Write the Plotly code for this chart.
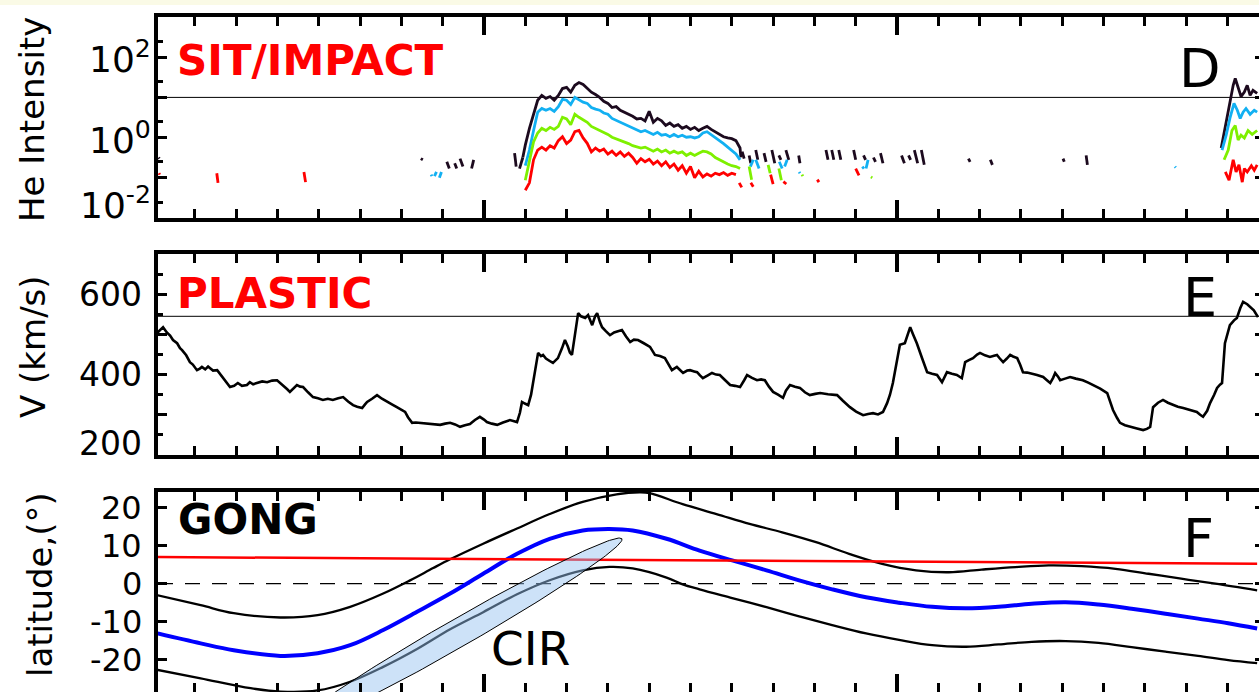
import numpy as np
import plotly.graph_objects as go

# ---------------- SIT/IMPACT: He intensities (four energy channels) ----------------
# main event, sampled every 0.1 day
event_days = [11.0, 11.1, 11.2, 11.3, 11.4, 11.5, 11.6, 11.7, 11.8, 11.9,
              12.0, 12.1, 12.2, 12.3, 12.4, 12.5, 12.6, 12.7, 12.8, 12.9,
              13.0, 13.1, 13.2, 13.3, 13.4, 13.5, 13.6, 13.7, 13.8, 13.9,
              14.0, 14.1, 14.2, 14.3, 14.4, 14.5, 14.6, 14.7, 14.8, 14.9,
              15.0, 15.1, 15.2, 15.3, 15.4, 15.5, 15.6, 15.7, 15.8, 15.9,
              16.0, 16.1, 16.2]
he_black_event = [0.65, 1.7, 3.6, 8.5, 11.2, 9.5, 10.5, 8.5, 11.2, 16.6,
                  17.8, 13.5, 20, 23.4, 21, 16.6, 13.5, 11.8, 10, 8,
                  7.1, 5.6, 5.9, 4.8, 4.3, 3.8, 3.4, 2.9, 3.0, 2.6,
                  4.5, 2.4, 3.0, 2.6, 2.0, 2.3, 1.9, 2.1, 1.7, 1.9,
                  1.6, 1.8, 1.5, 1.7, 1.9, 1.6, 1.4, 1.2, 1.05, 0.98,
                  0.94, 0.84, 0.55]
he_blue_event = [0.2, 0.49, 1.5, 4.3, 5.3, 4.8, 5.3, 4.5, 5.9, 8.9,
                 8.5, 6.7, 10, 8.9, 7.6, 7.1, 5.6, 5.1, 4.8, 4.1,
                 3.8, 3.0, 2.7, 2.4, 2.1, 1.9, 1.7, 1.6, 1.4, 1.5,
                 1.35, 1.2, 1.35, 1.15, 1.2, 1.05, 1.2, 1.05, 1.15, 1.02,
                 1.05, 0.98, 1.05, 1.3, 1.4, 1.2, 1.02, 0.84, 0.71, 0.58,
                 0.49, 0.39, 0.28]
he_green_event = [0.087, 0.28, 0.78, 1.3, 1.7, 1.5, 1.8, 1.6, 1.9, 3.2,
                  2.9, 2.1, 3.8, 3.2, 2.7, 2.4, 1.9, 1.7, 1.5, 1.35,
                  1.2, 1.02, 0.94, 0.87, 0.78, 0.71, 0.63, 0.58, 0.55, 0.58,
                  0.52, 0.46, 0.52, 0.44, 0.49, 0.41, 0.46, 0.41, 0.44, 0.36,
                  0.41, 0.36, 0.41, 0.46, 0.44, 0.39, 0.32, 0.28, 0.25, 0.22,
                  0.2, 0.19, 0.17]
he_red_event = [0.049, 0.075, 0.28, 0.49, 0.58, 0.49, 0.63, 0.55, 0.84, 1.05,
                0.71, 0.87, 1.4, 1.5, 0.98, 0.72, 0.44, 0.55, 0.46, 0.52,
                0.39, 0.46, 0.36, 0.44, 0.34, 0.41, 0.32, 0.23, 0.3, 0.25,
                0.29, 0.22, 0.26, 0.2, 0.25, 0.18, 0.22, 0.155, 0.2, 0.13,
                0.19, 0.1, 0.145, 0.105, 0.125, 0.11, 0.13, 0.12, 0.135, 0.115,
                0.13, 0.12, None]

# sparse low-level samples outside the event (None separates the short pieces)
he_black_bits_days = [2.12, 2.14, None, 8.47, 8.52, None, 9.10, 9.16, None, 9.29, 9.34, None,
                      9.42, 9.49, None, 9.70, 9.75, None, 10.74, 10.78, None, 10.86, 10.94, None,
                      16.25, 16.30, None, 16.42, 16.46, None, 16.58, 16.63, None, 16.78, 16.83, None,
                      16.97, 17.04, None, 17.14, 17.19, None, 17.31, 17.38, None, 17.62, 17.65, None,
                      18.28, 18.33, None, 18.42, 18.47, None, 18.59, 18.64, None, 18.95, 19.0, None,
                      19.19, 19.24, None, 19.43, 19.48, None, 19.60, 19.66, None, 20.11, 20.18, None,
                      20.28, 20.33, None, 20.42, 20.50, None, 20.59, 20.66, None, 21.73, 21.77, None,
                      22.26, 22.31, None, 24.02, 24.05, None, 24.58, 24.61]
he_black_bits = [0.32, 0.30, None, 0.30, 0.28, None, 0.25, 0.17, None, 0.23, 0.17, None,
                 0.30, 0.19, None, 0.17, 0.28, None, 0.41, 0.19, None, 0.17, 0.32, None,
                 0.45, 0.3, None, 0.36, 0.23, None, 0.49, 0.28, None, 0.41, 0.25, None,
                 0.49, 0.23, None, 0.36, 0.28, None, 0.49, 0.28, None, 0.36, 0.23, None,
                 0.49, 0.28, None, 0.49, 0.28, None, 0.49, 0.28, None, 0.49, 0.28, None,
                 0.36, 0.28, None, 0.32, 0.25, None, 0.41, 0.23, None, 0.36, 0.23, None,
                 0.36, 0.28, None, 0.49, 0.23, None, 0.49, 0.21, None, 0.30, 0.25, None,
                 0.28, 0.21, None, 0.30, 0.25, None, 0.36, 0.21]
he_blue_bits_days = [8.72, 8.74, None, 8.80, 8.85, None, 8.92, 8.97, None, 16.45, 16.52, None,
                     16.58, 16.66, None, 17.15, 17.22, None, 17.28, 17.34, None, 17.63, 17.65, None,
                     19.16, 19.20, None, 19.25, 19.30, None, 26.73, 26.75]
he_blue_bits = [0.12, 0.11, None, 0.11, 0.14, None, 0.10, 0.14, None, 0.19, 0.28, None,
                0.28, 0.17, None, 0.25, 0.17, None, 0.19, 0.28, None, 0.14, 0.13, None,
                0.19, 0.17, None, 0.17, 0.28, None, 0.19, 0.18]
he_green_bits_days = [16.42, 16.48, None, 16.88, 16.93, None, 17.14, 17.20, None, 17.70, 17.72, None,
                      19.37, 19.40]
he_green_bits = [0.19, 0.09, None, 0.21, 0.13, None, 0.17, 0.087, None, 0.12, 0.11, None,
                 0.105, 0.1]
he_red_bits_days = [2.13, 2.15, None, 3.53, 3.56, None, 5.64, 5.68, None, 16.18, 16.24, None,
                    16.46, 16.52, None, 16.94, 17.0, None, 17.25, 17.32, None, 18.07, 18.11, None,
                    19.0, 19.08]
he_red_bits = [0.13, 0.12, None, 0.13, 0.075, None, 0.14, 0.078, None, 0.075, 0.058, None,
               0.075, 0.06, None, 0.12, 0.07, None, 0.08, 0.07, None, 0.09, 0.078, None,
               0.17, 0.115]

# onset of the next event at the right-hand end
he_black_next_days = [27.85, 27.95, 28.04, 28.14, 28.19, 28.26, 28.33, 28.41, 28.48, 28.55, 28.62, 28.72]
he_black_next = [0.55, 2.0, 5.6, 20, 29.5, 16.6, 10.5, 13.5, 20, 11.2, 15, 12.6]
he_blue_next_days = [27.87, 27.97, 28.06, 28.16, 28.24, 28.31, 28.38, 28.45, 28.55, 28.65, 28.72]
he_blue_next = [0.49, 1.15, 3.0, 7.1, 4.8, 3.0, 4.3, 5.3, 3.8, 4.8, 4.3]
he_green_next_days = [27.92, 28.02, 28.11, 28.19, 28.26, 28.33, 28.41, 28.50, 28.60, 28.72]
he_green_next = [0.28, 0.49, 1.5, 2.0, 0.87, 1.15, 0.98, 1.5, 1.2, 1.5]
he_red_next_days = [27.95, 28.04, 28.14, 28.21, 28.28, 28.36, 28.41, 28.48, 28.58, 28.65, 28.72]
he_red_next = [0.14, 0.087, 0.28, 0.14, 0.21, 0.078, 0.17, 0.14, 0.2, 0.155, 0.21]

he_reference_level = 10

# ---------------- PLASTIC: solar wind speed ----------------
speed_days = [2.08, 2.16, 2.23, 2.32, 2.40, 2.47, 2.57, 2.64, 2.69, 2.79,
              2.88, 2.95, 3.05, 3.12, 3.17, 3.25, 3.32, 3.37, 3.44, 3.54,
              3.61, 3.66, 3.75, 3.85, 3.95, 4.04, 4.14, 4.26, 4.33, 4.41,
              4.50, 4.63, 4.75, 4.87, 4.99, 5.06, 5.13, 5.23, 5.30, 5.38,
              5.47, 5.55, 5.62, 5.74, 5.86, 5.98, 6.10, 6.22, 6.34, 6.47,
              6.59, 6.71, 6.83, 6.93, 7.05, 7.12, 7.17, 7.29, 7.41, 7.53,
              7.65, 7.77, 7.89, 7.99, 8.09, 8.16, 8.26, 8.35, 8.45, 8.69,
              8.94, 9.06, 9.18, 9.30, 9.42, 9.54, 9.66, 9.78, 9.90, 10.00,
              10.07, 10.19, 10.32, 10.46, 10.63, 10.73, 10.80, 10.87, 10.92, 10.99,
              11.07, 11.14, 11.19, 11.26, 11.31, 11.38, 11.43, 11.50, 11.55, 11.62,
              11.67, 11.74, 11.79, 11.89, 11.96, 12.03, 12.08, 12.13, 12.20, 12.28,
              12.35, 12.45, 12.52, 12.62, 12.69, 12.74, 12.81, 12.86, 12.95, 13.05,
              13.15, 13.25, 13.34, 13.44, 13.54, 13.63, 13.73, 13.87, 14.02, 14.14,
              14.26, 14.38, 14.46, 14.55, 14.67, 14.75, 14.82, 14.92, 14.99, 15.09,
              15.16, 15.23, 15.30, 15.42, 15.52, 15.62, 15.71, 15.84, 15.96, 16.08,
              16.20, 16.30, 16.37, 16.49, 16.61, 16.71, 16.80, 16.90, 17.00, 17.12,
              17.24, 17.31, 17.41, 17.53, 17.65, 17.77, 17.89, 18.02, 18.14, 18.33,
              18.55, 18.69, 18.86, 19.01, 19.18, 19.30, 19.42, 19.54, 19.66, 19.76,
              19.83, 19.90, 20.00, 20.07, 20.19, 20.32, 20.39, 20.48, 20.61, 20.73,
              20.85, 20.97, 21.09, 21.16, 21.21, 21.33, 21.45, 21.57, 21.65, 21.74,
              21.84, 21.94, 22.01, 22.13, 22.25, 22.35, 22.42, 22.49, 22.57, 22.66,
              22.74, 22.81, 22.91, 22.98, 23.05, 23.15, 23.22, 23.32, 23.39, 23.46,
              23.54, 23.63, 23.71, 23.78, 23.83, 23.90, 23.95, 24.07, 24.19, 24.33,
              24.50, 24.63, 24.75, 24.92, 25.09, 25.16, 25.23, 25.33, 25.40, 25.52,
              25.64, 25.81, 25.96, 26.05, 26.13, 26.20, 26.32, 26.44, 26.56, 26.68,
              26.80, 26.93, 27.09, 27.26, 27.34, 27.41, 27.51, 27.58, 27.68, 27.75,
              27.82, 27.87, 27.94, 28.02, 28.06, 28.16, 28.23, 28.31, 28.38, 28.48,
              28.55, 28.64, 28.74]
speed_kms = [503, 512, 518, 505, 497, 486, 478, 466, 461, 448,
             431, 425, 411, 415, 419, 413, 420, 416, 410, 411,
             402, 394, 383, 369, 372, 379, 372, 374, 381, 376,
             379, 383, 381, 385, 386, 380, 374, 364, 357, 366,
             374, 370, 369, 356, 344, 341, 337, 340, 337, 341,
             344, 333, 324, 320, 317, 326, 332, 340, 349, 340,
             332, 326, 319, 314, 307, 294, 280, 281, 280, 277,
             275, 278, 280, 276, 270, 274, 277, 287, 295, 288,
             282, 278, 275, 281, 287, 284, 282, 305, 332, 328,
             324, 350, 379, 420, 454, 446, 449, 440, 436, 432,
             429, 436, 441, 466, 486, 470, 455, 449, 500, 553,
             545, 541, 548, 523, 545, 553, 530, 518, 508, 498,
             505, 508, 511, 495, 481, 487, 486, 478, 469, 449,
             446, 441, 426, 411, 419, 410, 404, 410, 411, 408,
             406, 398, 391, 398, 404, 400, 399, 386, 374, 372,
             369, 386, 399, 392, 386, 388, 386, 370, 357, 350,
             342, 360, 374, 370, 367, 356, 349, 352, 354, 351,
             349, 335, 319, 308, 299, 302, 304, 301, 307, 329,
             350, 379, 440, 474, 478, 518, 500, 478, 440, 406,
             402, 399, 381, 395, 406, 402, 399, 391, 431, 436,
             441, 450, 454, 448, 444, 447, 449, 440, 431, 440,
             449, 445, 441, 425, 406, 405, 404, 401, 399, 396,
             394, 386, 379, 392, 404, 395, 386, 390, 394, 390,
             386, 380, 374, 365, 354, 335, 312, 292, 280, 274,
             270, 266, 262, 265, 270, 319, 330, 337, 330, 324,
             320, 317, 312, 307, 300, 295, 310, 329, 350, 367,
             375, 379, 478, 505, 523, 535, 541, 565, 581, 575,
             568, 560, 543]
speed_reference = 545

# ---------------- GONG: latitudes ----------------
upper_days = [2.10, 3.14, 3.94, 5.07, 5.97, 6.76, 7.56, 8.21, 8.77, 9.18, 9.98, 10.80, 11.59, 12.39,
              13.21, 13.77, 14.01, 14.81, 15.63, 16.43, 17.22, 18.04, 18.84, 19.64, 20.46, 21.26,
              22.05, 22.87, 23.67, 24.47, 25.29, 26.09, 26.88, 27.71, 28.72]
upper_lat = [-3.06, -5.68, -7.78, -8.9, -8.3, -6.1, -2.6, 0.86, 4.1, 6.4, 10.5, 14.5, 18.3, 21.5,
             23.5, 24.0, 23.8, 20.9, 18.3, 15.7, 13.5, 10.9, 7.85, 5.2, 3.5, 3.0,
             3.7, 4.35, 4.8, 4.6, 3.9, 2.6, 1.3, 0.0, -1.75]
center_days = [2.10, 3.14, 3.94, 5.07, 5.97, 6.76, 7.56, 8.38, 9.18, 9.98, 10.80, 11.59, 12.39, 13.04,
               13.60, 14.42, 15.22, 16.01, 16.84, 17.63, 18.43, 19.25, 20.05, 20.85, 21.67, 22.46,
               23.26, 24.08, 24.88, 25.68, 26.50, 27.29, 28.02, 28.72]
center_lat = [-13.1, -15.7, -17.5, -19.0, -18.3, -16.2, -12.2, -7.4, -2.6, 2.6, 7.85, 11.8, 14.0, 14.4,
              14.0, 11.8, 8.7, 6.1, 3.5, 0.86, -1.5, -3.6, -5.0, -6.1, -6.5, -6.1,
              -5.3, -4.9, -5.5, -6.6, -7.9, -9.2, -10.4, -11.8]
lower_days = [2.10, 3.14, 4.35, 5.07, 5.97, 6.76, 7.56, 8.38, 9.18, 9.98, 10.80, 11.59, 12.39, 13.04,
              13.60, 14.42, 14.81, 15.22, 16.01, 16.84, 17.63, 18.43, 19.25, 20.05, 20.85, 21.67,
              22.46, 23.26, 24.08, 24.88, 25.68, 26.50, 27.29, 28.02, 28.72]
lower_lat = [-22.7, -24.9, -27.5, -28.4, -28.1, -25.8, -21.9, -17.2, -12.0, -7.5, -2.8, 0.9, 3.5, 4.4,
             4.0, 1.6, -0.2, -1.5, -3.8, -6.2, -8.6, -10.9, -13.1, -14.8, -16.2, -16.6,
             -16.0, -15.3, -15.1, -15.6, -16.7, -17.9, -19.0, -20.1, -20.9]
earth_days = [2.10, 28.72]
earth_lat = [7.0, 5.2]

# CIR region: centre (day, deg), half-axis vectors (day, deg)
cir_center = (9.32, -13.3)
cir_major = (4.02, 25.1)
cir_minor = (0.169, -3.17)

# y tick labels
he_tick_vals = [100, 1, 0.01]
he_tick_text = ["10<sup>2</sup>", "10<sup>0</sup>", "10<sup>-2</sup>"]
v_tick_vals = [600, 400, 200]
lat_tick_vals = [20, 10, 0, -10, -20]

# ---------------- layout geometry ----------------
W, H = 1259, 692
L = 158
FONT = "DejaVu Sans"
X_RANGE = [2.107, 28.765]


def pyf(p):
    return 1 - p / H


D_DOM = [pyf(218), pyf(17)]
E_DOM = [pyf(455), pyf(254)]
F_DOM = [0.0, pyf(492)]

HE_COLORS = {"black": "#1c0a1e", "blue": "#12b0f2", "green": "#7ef000", "red": "#ff0000"}


def pieces(*parts):
    xs, ys = [], []
    for dx, dy in parts:
        if xs:
            xs.append(None)
            ys.append(None)
        xs += list(dx)
        ys += list(dy)
    return xs, ys


fig = go.Figure()

# --- panel D ---
he_series = {
    "black": ((he_black_bits_days, he_black_bits), ([10.94] + event_days + [16.22], [0.32] + he_black_event + [0.32]),
              (he_black_next_days, he_black_next)),
    "blue": ((he_blue_bits_days, he_blue_bits), (event_days, he_blue_event), (he_blue_next_days, he_blue_next)),
    "green": ((he_green_bits_days, he_green_bits), (event_days, he_green_event), (he_green_next_days, he_green_next)),
    "red": ((he_red_bits_days, he_red_bits), (event_days, he_red_event), (he_red_next_days, he_red_next)),
}
fig.add_trace(go.Scatter(x=X_RANGE, y=[he_reference_level] * 2, mode="lines",
                         line=dict(color="black", width=1), xaxis="x", yaxis="y"))
for name in ["black", "blue", "green", "red"]:
    xs, ys = pieces(*he_series[name])
    fig.add_trace(go.Scatter(x=xs, y=ys, mode="lines", connectgaps=False,
                             line=dict(color=HE_COLORS[name], width=2.8), xaxis="x", yaxis="y"))

# --- panel E ---
fig.add_trace(go.Scatter(x=X_RANGE, y=[speed_reference] * 2, mode="lines",
                         line=dict(color="black", width=1), xaxis="x2", yaxis="y2"))
fig.add_trace(go.Scatter(x=speed_days, y=speed_kms, mode="lines",
                         line=dict(color="black", width=2.6), xaxis="x2", yaxis="y2"))

# --- panel F ---
fig.add_trace(go.Scatter(x=X_RANGE, y=[0, 0], mode="lines",
                         line=dict(color="black", width=1.2, dash="15px,12px"), xaxis="x3", yaxis="y3"))
for dx, dy in [(upper_days, upper_lat), (lower_days, lower_lat)]:
    fig.add_trace(go.Scatter(x=dx, y=dy, mode="lines", line=dict(color="black", width=2.3, shape="spline"),
                             xaxis="x3", yaxis="y3"))
fig.add_trace(go.Scatter(x=center_days, y=center_lat, mode="lines",
                         line=dict(color="#0000ff", width=4, shape="spline"), xaxis="x3", yaxis="y3"))
fig.add_trace(go.Scatter(x=earth_days, y=earth_lat, mode="lines",
                         line=dict(color="#ff0000", width=2.5), xaxis="x3", yaxis="y3"))
t = np.linspace(0, 2 * np.pi, 181)
ell_x = cir_center[0] + cir_major[0] * np.cos(t) + cir_minor[0] * np.sin(t)
ell_y = cir_center[1] + cir_major[1] * np.cos(t) + cir_minor[1] * np.sin(t)
fig.add_trace(go.Scatter(x=ell_x, y=ell_y, mode="lines", fill="toself",
                         fillcolor="rgba(150,194,240,0.48)", line=dict(color="black", width=1),
                         xaxis="x3", yaxis="y3"))

# empty traces that carry the right-hand tick axes
for ya, xa in [("y4", "x"), ("y5", "x2"), ("y6", "x3")]:
    fig.add_trace(go.Scatter(x=[None], y=[None], xaxis=xa, yaxis=ya, mode="lines"))

fig.update_traces(showlegend=False, hoverinfo="skip")

# ---------------- axes ----------------
xcommon = dict(range=X_RANGE, domain=[0, 1], showline=True, linewidth=4, linecolor="black", mirror="ticks",
               ticks="inside", ticklen=18, tickwidth=4, tickcolor="black", tick0=0, dtick=10,
               showticklabels=False, showgrid=False, zeroline=False,
               minor=dict(ticks="inside", ticklen=9, tickwidth=3, tickcolor="black", tick0=0, dtick=1,
                          showgrid=False))
ycommon = dict(showline=True, linewidth=4, linecolor="black", mirror=False, ticks="inside",
               ticklen=9, tickwidth=3, tickcolor="black", showticklabels=False, showgrid=False,
               zeroline=False)
right_common = dict(side="right", showline=False, ticks="inside", ticklen=4, tickwidth=3,
                    tickcolor="black", showticklabels=False, showgrid=False, zeroline=False)

fig.update_layout(
    xaxis=dict(xcommon, anchor="y"),
    xaxis2=dict(xcommon, anchor="y2"),
    xaxis3=dict(xcommon, anchor="y3"),
    yaxis=dict(ycommon, domain=D_DOM, anchor="x", type="log", range=[-2, 3],
               tickvals=[0.01, 0.1, 1, 10, 100, 1000],
               minor=dict(ticks="inside", ticklen=5, tickwidth=3, tickcolor="black",
                          tickvals=[0.025, 0.25, 2.5, 25, 250], showgrid=False)),
    yaxis2=dict(ycommon, domain=E_DOM, anchor="x2", range=[200, 700], tick0=0, dtick=100,
                minor=dict(ticks="inside", ticklen=5, tickwidth=3, tickcolor="black", tick0=0, dtick=50,
                           showgrid=False)),
    yaxis3=dict(ycommon, domain=F_DOM, anchor="x3", range=[-28.5, 24.1], tick0=0, dtick=10),
    yaxis4=dict(right_common, overlaying="y", anchor="x", type="log", range=[-2, 3],
                tickvals=[0.01, 0.1, 1, 10, 100, 1000]),
    yaxis5=dict(right_common, overlaying="y2", anchor="x2", range=[200, 700], tick0=0, dtick=100),
    yaxis6=dict(right_common, overlaying="y3", anchor="x3", range=[-28.5, 24.1], tick0=0, dtick=10),
)

# ---------------- text ----------------
ann = []


def text(s, x_px, y_px, size, color="black", xanchor="center", angle=0):
    ann.append(dict(text=s, xref="paper", yref="paper", x=0, xshift=x_px - L, y=pyf(y_px),
                    xanchor=xanchor, yanchor="middle", showarrow=False, textangle=angle,
                    font=dict(family=FONT, size=size, color=color)))


# y tick labels
for v, s in zip(he_tick_vals, he_tick_text):
    ann.append(dict(text=s, xref="paper", x=0, xshift=-5, xanchor="right", yref="y", y=np.log10(v),
                    yshift=15 if v == min(he_tick_vals) else 0, yanchor="middle", showarrow=False,
                    font=dict(family=FONT, size=36, color="black")))
for v in v_tick_vals:
    ann.append(dict(text=str(v), xref="paper", x=0, xshift=-14, xanchor="right", yref="y2", y=v,
                    yshift=12 if v == min(v_tick_vals) else 0, yanchor="middle", showarrow=False,
                    font=dict(family=FONT, size=33, color="black")))
for v in lat_tick_vals:
    ann.append(dict(text=str(v), xref="paper", x=0, xshift=-14, xanchor="right", yref="y3", y=v,
                    yanchor="middle", showarrow=False, font=dict(family=FONT, size=32, color="black")))

# axis titles
text("He Intensity", 32, 120, 34, angle=-90)
text("V (km/s)", 33, 347, 34, angle=-90)
text("latitude,(°)", 40, 585, 34, angle=-90)

# panel names and letters
text("<b>SIT/IMPACT</b>", 175, 60, 42, color="#ff0000", xanchor="left")
text("<b>PLASTIC</b>", 175, 293, 42, color="#ff0000", xanchor="left")
text("<b>GONG</b>", 176, 519, 42, xanchor="left")
text("D", 1200, 68, 54)
text("E", 1200, 297, 54)
text("F", 1198, 538, 54)
text("CIR", 530, 648, 47)

fig.update_layout(
    annotations=ann,
    width=W, height=H, autosize=False,
    margin=dict(l=L, r=0, t=0, b=0, pad=0),
    paper_bgcolor="white", plot_bgcolor="white",
    showlegend=False,
    shapes=[dict(type="rect", xref="paper", yref="paper", x0=-L / (W - L), x1=1, y0=pyf(5), y1=1,
                 fillcolor="#fafae6", line=dict(width=0), layer="below")],
)

fig.write_html("out.html")
